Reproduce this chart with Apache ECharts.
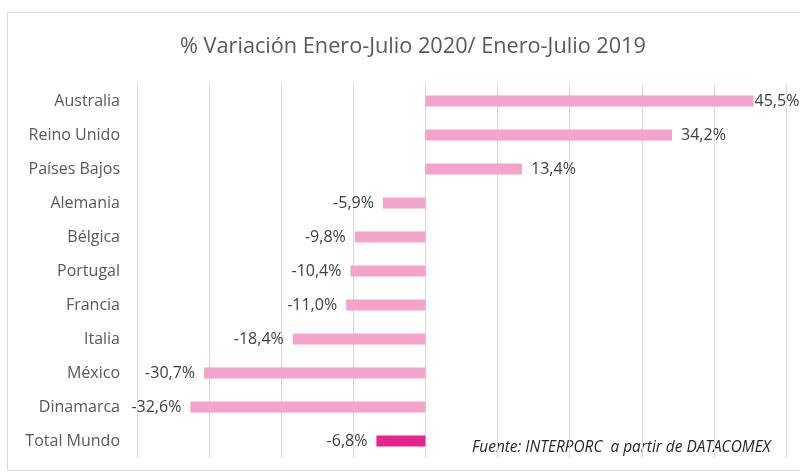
<!DOCTYPE html>
<html>
<head>
<meta charset="utf-8">
<script src="https://cdn.jsdelivr.net/npm/echarts@6/dist/echarts.min.js"></script>
<style>
  html, body { margin: 0; padding: 0; background: #fff; }
  #chart { width: 800px; height: 473px; }
</style>
</head>
<body>
<div id="chart"></div>
<script>
// Countries, top to bottom
const categories = ['Australia', 'Reino Unido', 'Países Bajos', 'Alemania', 'Bélgica', 'Portugal', 'Francia', 'Italia', 'México', 'Dinamarca', 'Total Mundo'];
// % change Jan-Jul 2020 vs Jan-Jul 2019
const values = [45.5, 34.2, 13.4, -5.9, -9.8, -10.4, -11.0, -18.4, -30.7, -32.6, -6.8];
// Value axis range
const axisMin = -40;
const axisMax = 50;
const axisStep = 10;

const FONT = '"Open Sans", "Noto Sans", sans-serif';
const pink = '#F4A4C9';
const magenta = '#E8248A';

const chart = echarts.init(document.getElementById('chart'));

const seriesData = values.map((v, i) => {
  const isTotal = categories[i] === 'Total Mundo';
  return {
    value: v,
    itemStyle: { color: isTotal ? magenta : pink },
    label: {
      position: v >= 0 ? 'right' : 'left',
      distance: i === 0 ? 1 : 9
    }
  };
});

chart.setOption({
  animation: false,
  title: {
    text: '% Variación Enero-Julio 2020/ Enero-Julio 2019',
    left: 175,
    top: 31,
    textStyle: { fontFamily: FONT, fontSize: 21.7, fontWeight: 'normal', color: '#595959' }
  },
  grid: { left: 137, right: 14, top: 84, bottom: 15 },
  xAxis: {
    type: 'value',
    min: axisMin,
    max: axisMax,
    interval: axisStep,
    axisLabel: { show: false },
    axisTick: { show: false },
    axisLine: { show: false },
    splitLine: { lineStyle: { color: '#D9D9D9', width: 1 } }
  },
  yAxis: {
    type: 'category',
    inverse: true,
    data: categories,
    axisLine: { show: false },
    axisTick: { show: false },
    axisLabel: { fontFamily: FONT, fontSize: 16, color: '#595959', margin: 17 }
  },
  series: [{
    type: 'bar',
    data: seriesData,
    barWidth: 11,
    label: {
      show: true,
      fontFamily: FONT,
      fontSize: 16,
      color: '#404040',
      formatter: p => p.value.toFixed(1).replace('.', ',') + '%'
    }
  }],
  graphic: [
    {
      type: 'rect',
      shape: { x: 7.5, y: 12.5, width: 800, height: 458 },
      style: { fill: 'none', stroke: '#D9D9D9', lineWidth: 1 },
      silent: true
    },
    {
      type: 'text',
      left: 472,
      top: 440,
      style: {
        text: 'Fuente: INTERPORC  a partir de DATACOMEX',
        fontFamily: FONT,
        fontSize: 15.4,
        fontStyle: 'italic',
        fill: '#262626'
      }
    }
  ]
});
</script>
</body>
</html>
